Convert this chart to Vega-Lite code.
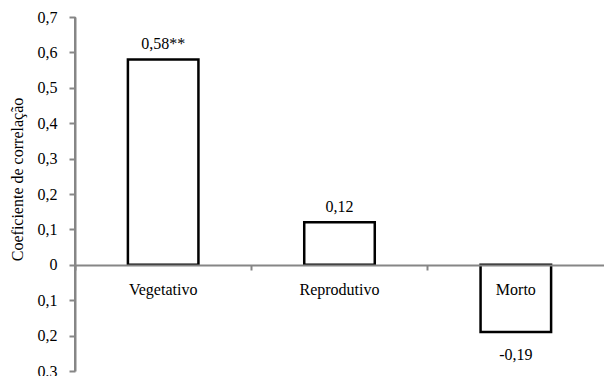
{
  "$schema": "https://vega.github.io/schema/vega-lite/v6.json",
  "width": 529,
  "height": 354,
  "autosize": {"type": "none"},
  "padding": {"left": 75, "top": 17, "right": 0, "bottom": 5},
  "background": "white",
  "config": {
    "view": {"stroke": null},
    "font": "Liberation Serif",
    "text": {"font": "Liberation Serif", "fontSize": 16, "color": "black"},
    "axis": {
      "domain": true,
      "ticks": true,
      "grid": false,
      "domainColor": "#868686",
      "domainWidth": 2,
      "tickColor": "#868686",
      "tickWidth": 2,
      "labelFont": "Liberation Serif",
      "titleFont": "Liberation Serif",
      "labelColor": "black",
      "titleColor": "black",
      "labelFontSize": 16,
      "titleFontSize": 16,
      "titleFontWeight": "normal",
      "labelOverlap": false
    }
  },
  "data": {
    "values": [
      {"categoria": "Vegetativo", "valor": 0.58, "rotulo": "0,58**"},
      {"categoria": "Reprodutivo", "valor": 0.12, "rotulo": "0,12"},
      {"categoria": "Morto", "valor": -0.19, "rotulo": "-0,19"}
    ]
  },
  "encoding": {
    "x": {
      "field": "categoria",
      "type": "nominal",
      "sort": null,
      "scale": {"paddingInner": 0, "paddingOuter": 0},
      "axis": {
        "title": null,
        "labels": true,
        "labelAngle": 0,
        "labelPadding": 24,
        "labelBaseline": "alphabetic",
        "bandPosition": 0,
        "tickExtra": false,
        "offset": -106,
        "tickSize": 5,
        "zindex": 1
      }
    },
    "y": {
      "field": "valor",
      "type": "quantitative",
      "scale": {"domain": [-0.3, 0.7], "nice": false, "zero": false},
      "axis": {
        "orient": "left",
        "title": "Coeficiente de correlação",
        "titleX": -50,
        "titleY": 162,
        "values": [-0.3, -0.2, -0.1, 0, 0.1, 0.2, 0.3, 0.4, 0.5, 0.6, 0.7],
        "labelExpr": "datum.value == 0 ? '0' : replace(format(abs(datum.value), '.1f'), '.', ',')",
        "labelPadding": 12,
        "labelOverlap": false,
        "domain": true,
        "ticks": true,
        "domainColor": "#868686",
        "domainWidth": 2,
        "tickColor": "#868686",
        "tickWidth": 2,
        "tickSize": 6,
        "zindex": 1
      }
    }
  },
  "layer": [
    {
      "mark": {"type": "bar", "fill": "white", "stroke": "black", "strokeWidth": 2.5, "width": {"band": 0.4}}
    },
    {
      "mark": {"type": "rule", "color": "#868686", "strokeWidth": 2},
      "encoding": {
        "x": {"datum": "Vegetativo", "type": "nominal", "bandPosition": 0},
        "y": {"datum": -0.3, "type": "quantitative"},
        "y2": {"datum": 0.7}
      }
    },
    {
      "transform": [{"filter": "datum.valor > 0"}],
      "mark": {"type": "text", "baseline": "alphabetic", "dy": -10},
      "encoding": {
        "text": {"field": "rotulo"}
      }
    },
    {
      "transform": [{"filter": "datum.valor < 0"}],
      "mark": {"type": "text", "baseline": "alphabetic", "dy": 28},
      "encoding": {
        "text": {"field": "rotulo"}
      }
    }
  ]
}
